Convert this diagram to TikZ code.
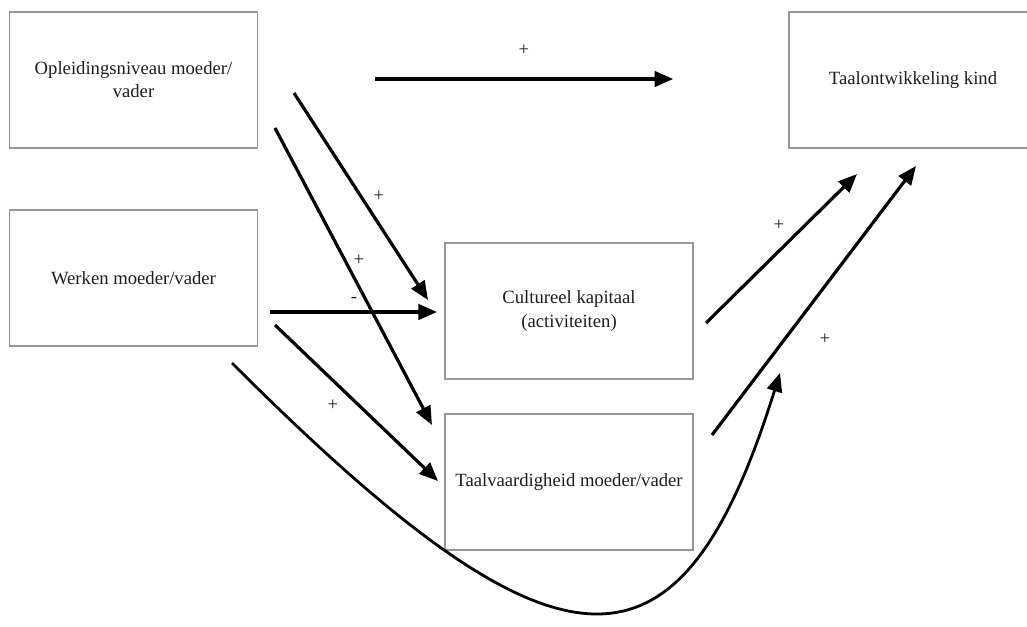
\documentclass[tikz,border=0pt]{standalone}
\usepackage{fontspec}
\setmainfont{Liberation Serif}
\usepackage{xcolor}
\usetikzlibrary{arrows.meta, positioning, calc}
\definecolor{boxgray}{RGB}{150,152,155}
\definecolor{txtdark}{RGB}{30,30,30}
\tikzset{
  factor/.style={draw=boxgray, line width=1.1pt, inner sep=0pt, align=center,
    minimum width=186pt, minimum height=102pt, text=txtdark,
    font=\fontsize{14}{17.25}\selectfont},
  arrow/.style={-{Triangle[length=14pt, width=11.5pt]}, line width=2.4pt, color=black},
  sign/.style={font=\fontsize{14}{16}\selectfont, text=txtdark}
}

\begin{document}
\begin{tikzpicture}[x=0.75pt, y=-0.75pt]
  \clip (0,0) rectangle (1027,626);
  \fill[white] (0,0) rectangle (1027,626);

  % boxes
  \node[factor] (opl) at (133.5, 80) {Opleidingsniveau moeder/\\vader};
  \node[factor] (werk) at (133.5, 278) {Werken moeder/vader};
  \node[factor] (cult) at (569, 311) {Cultureel kapitaal\\(activiteiten)};
  \node[factor] (taalv) at (569, 482) {Taalvaardigheid moeder/vader};
  \node[factor] (taalo) at (913, 80) {Taalontwikkeling kind};

  % free ends of the connectors
  \coordinate (o1) at (294, 93);   \coordinate (c1) at (428, 300);
  \coordinate (o2) at (275, 128);  \coordinate (t1) at (432, 425);
  \coordinate (w1) at (270, 312);  \coordinate (c2) at (437, 312);
  \coordinate (w2) at (275, 325);  \coordinate (t2) at (438, 481);
  \coordinate (w3) at (232, 363);  \coordinate (k3) at (780, 373);
  \coordinate (c3) at (706, 323);  \coordinate (k1) at (857, 174);
  \coordinate (t3) at (712, 435);  \coordinate (k2) at (916, 166);

  % Opleidingsniveau -> Taalontwikkeling
  \draw[arrow, line width=2.7pt, shorten <=87.75pt, shorten >=86.25pt] (opl.east |- 0,79) -- (taalo.west |- 0,79);
  \node[sign] (p1) at (524, 50) {+};

  % Opleidingsniveau -> Cultureel kapitaal / Taalvaardigheid
  \draw[arrow] (o1) -- (c1);
  \node[sign] (p2) at (379, 196) {+};
  \draw[arrow] (o2) -- (t1);
  \node[sign] (p3) at (359, 260) {+};

  % Werken -> Cultureel kapitaal / Taalvaardigheid / Taalontwikkeling
  \draw[arrow, line width=2.7pt] (w1) -- (c2);
  \node[sign] (m1) at (354, 300) {-};
  \draw[arrow] (w2) -- (t2);
  \node[sign] (p4) at (333, 405) {+};
  \draw[arrow, line width=2.1pt] (w3) .. controls (562, 693) and (680, 693) .. (k3);

  % mediators -> Taalontwikkeling
  \draw[arrow] (c3) -- (k1);
  \node[sign] (p5) at (779, 225) {+};
  \draw[arrow] (t3) -- (k2);
  \node[sign] (p6) at (825, 339) {+};
\end{tikzpicture}
\end{document}
